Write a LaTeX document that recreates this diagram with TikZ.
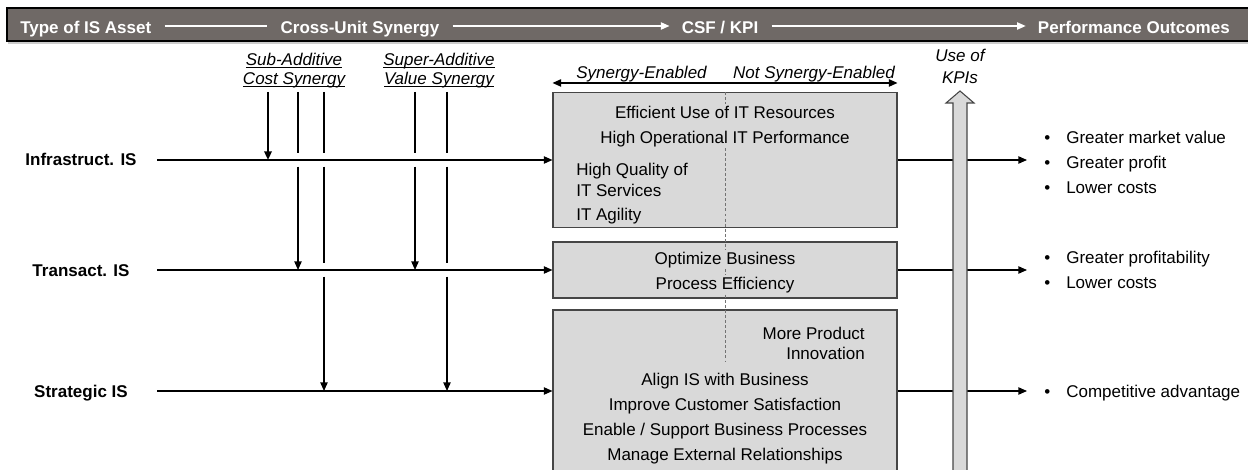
\documentclass[tikz,border=0pt]{standalone}
\usepackage{fontspec}
\setmainfont{Liberation Sans}
\usetikzlibrary{arrows.meta,calc}

\definecolor{barfill}{RGB}{111,105,102}
\definecolor{boxfill}{RGB}{217,217,217}
\definecolor{boxline}{RGB}{70,70,70}

% bullet with a fixed hanging width, and a close underline
\newcommand{\itm}{\makebox[16.5pt][l]{\textbullet}}
\newcommand{\undl}[1]{\setbox0=\hbox{#1}\rlap{\rule[-1.9pt]{\wd0}{0.6pt}}\box0}

\begin{document}
\begin{tikzpicture}[
  x=0.75pt, y=-0.75pt,
  every node/.style={inner sep=0pt, font=\fontsize{12.75}{18.75}\selectfont},
  head/.style={anchor=base, text=white, font=\fontsize{12.75}{15}\selectfont\bfseries},
  asset/.style={anchor=base, font=\fontsize{12.75}{15}\selectfont\bfseries},
  note/.style={font=\fontsize{12.75}{18.75}\selectfont\itshape, align=center},
  csf/.style={draw=boxline, fill=boxfill, line width=0.8pt, minimum width=258pt},
  csftext/.style={fill=boxfill, align=center, inner ysep=1.2pt},
  flow/.style={-{Triangle[length=6.5pt,width=5.5pt]}, line width=1pt},
  link/.style={line width=1pt},
  hline/.style={draw=white, line width=0.9pt},
  divider/.style={dash pattern=on 2.2pt off 1.6pt, draw=black!55, line width=0.6pt},
  kpi/.style={fill=boxfill, draw=boxline, line width=0.8pt}
]
\useasboundingbox (0,0) rectangle (1248,470);

% header bar
\fill[barfill] (7,8) rectangle (1255,41);
\draw[line width=1.2pt] (1255,8) -- (7,8) -- (7,41) -- (1255,41);
\draw[black!20, line width=1.2pt] (8,43) -- (1255,43);
\coordinate (hl) at (0,26);
\node[head, anchor=base west] (h1) at (20,34) {Type of IS Asset};
\node[head] (h2) at (360,34) {Cross-Unit Synergy};
\node[head] (h3) at (720,34) {CSF / KPI};
\node[head, anchor=base east] (h4) at (1230,34) {Performance Outcomes};
\draw[hline, shorten <=9.75pt, shorten >=9.75pt] (h1.east |- hl) -- (h2.west |- hl);
\draw[hline, -{Triangle[length=6.5pt,width=5.5pt]}, shorten <=9.75pt, shorten >=9pt] (h2.east |- hl) -- (h3.west |- hl);
\draw[hline, -{Triangle[length=6.5pt,width=5.5pt]}, shorten <=9.75pt, shorten >=9pt] (h3.east |- hl) -- (h4.west |- hl);

% CSF boxes
\node[csf, minimum height=101.25pt] (b1) at (725,160) {};
\node[csf, minimum height=42pt] (b2) at (725,270) {};
\node[csf, minimum height=121.5pt] (b3) at (725,391) {};

% asset rows
\node[asset] (infra) at (81,166) {Infrastruct. IS};
\node[asset] (trans) at (81,276) {Transact. IS};
\node[asset] (strat) at (81,397) {Strategic IS};
\coordinate (r1) at (157,160);
\coordinate (r2) at (157,270);
\coordinate (r3) at (157,391);
\foreach \r/\b in {r1/b1, r2/b2, r3/b3}
  \draw[flow] (\r) -- (\b.west);

% synergy columns
\node[note, anchor=north] (subadd) at (294,52.6) {\undl{Sub-Additive}\\[-4.5pt]\undl{Cost Synergy}};
\node[note, anchor=north] (supadd) at (439,52.6) {\undl{Super-Additive}\\[-4.5pt]\undl{Value Synergy}};
\coordinate (sub1) at (268,92);
\coordinate (sub2) at (298,92);
\coordinate (sub3) at (324,92);
\coordinate (sup1) at (415,92);
\coordinate (sup2) at (447,92);
\draw[flow, line width=2.2pt] (sub1) -- (sub1 |- r1);
\foreach \c in {sub2,sub3,sup1,sup2}
  \draw[link, shorten >=5pt] (\c) -- (\c |- r1);
\foreach \c in {sub2,sup1}
  \draw[flow, shorten <=5pt] (\c |- r1) -- (\c |- r2);
\foreach \c in {sub3,sup2} {
  \draw[link, shorten <=5pt, shorten >=5pt] (\c |- r1) -- (\c |- r2);
  \draw[flow, shorten <=5pt] (\c |- r2) -- (\c |- r3);
}

% enabled / not enabled split
\draw[{Triangle[length=6.5pt,width=5.5pt]}-{Triangle[length=6.5pt,width=5.5pt]}, line width=1pt]
  ($(b1.north west)+(0,-9)$) -- ($(b1.north east)+(0,-9)$);
\node[note, anchor=base west] (synen) at (576,79) {Synergy-Enabled};
\node[note, anchor=base east] (nosyn) at (895,79) {Not Synergy-Enabled};
\coordinate (divend) at (725,362);
\draw[divider] (b1.north) -- (divend);

% box texts
\node[csftext, anchor=north] (t1) at (725,104) {Efficient Use of IT Resources\\High Operational IT Performance};
\node[anchor=north west, align=left] (t2) at (576,162.6) {High Quality of\\[-3pt]IT Services};
\node[anchor=base west] (t3) at (576,221) {IT Agility};
\node[csftext, anchor=base] (t4) at (725,264) {Optimize Business};
\node[csftext, anchor=base] (t5) at (725,289) {Process Efficiency};
\node[anchor=north east, align=right] (t6) at (865,326.6) {More Product\\[-3.75pt]Innovation};
\node[anchor=north, align=center] (t7) at (725,372.6) {Align IS with Business\\Improve Customer Satisfaction\\Enable / Support Business Processes\\Manage External Relationships};

% outcomes
\node[anchor=north west, align=left] (o1) at (1044,130.6) {\itm Greater market value\\\itm Greater profit\\\itm Lower costs};
\node[anchor=north west, align=left] (o2) at (1044,250.6) {\itm Greater profitability\\\itm Lower costs};
\node[anchor=north west, align=left] (o3) at (1044,384.6) {\itm Competitive advantage};
\foreach \b/\o in {b1/o1, b2/o2, b3/o3}
  \draw[flow, shorten >=12.75pt] (\b.east) -- (\o.west |- \b.east);

% use of KPIs
\filldraw[kpi] (953,480) -- (953,103) -- (946,103) -- (960,91) -- (974,103) -- (967,103) -- (967,480);
\node[note, anchor=north] (kpis) at (960,48.6) {Use of\\[-2.25pt]KPIs};
\end{tikzpicture}
\end{document}
